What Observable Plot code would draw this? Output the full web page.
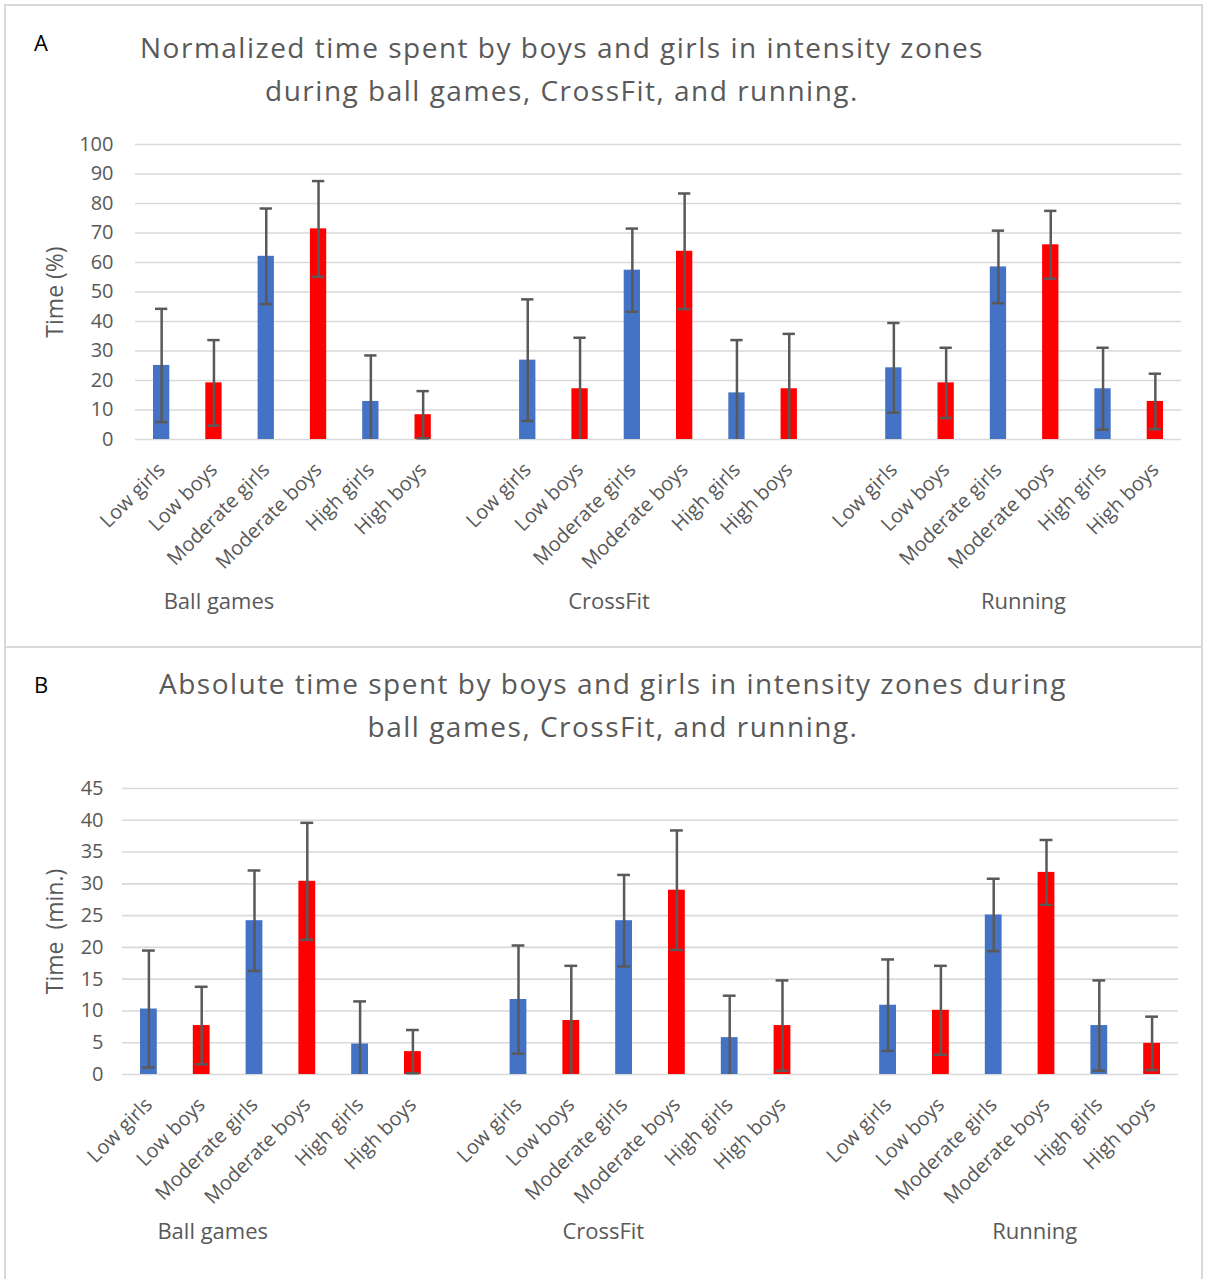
<!DOCTYPE html>
<html><head><meta charset="utf-8">
<script src="https://cdn.jsdelivr.net/npm/d3@7"></script>
<script src="https://cdn.jsdelivr.net/npm/@observablehq/plot@0.6"></script>
<style>
body{margin:0;background:#fff;font-family:"Open Sans",sans-serif;}
#page{position:relative;width:1205px;height:1279px;overflow:hidden;background:#fff;}
.panel{position:absolute;left:4px;width:1199px;border:2px solid #d9d9d9;box-sizing:border-box;}
.letter{position:absolute;font-size:22px;color:#000;}
.title{position:absolute;width:1100px;text-align:center;font-size:28px;letter-spacing:1.5px;color:#595959;line-height:43px;white-space:nowrap;}
.chart{position:absolute;left:0;width:1205px;}
.chart svg{max-width:none !important;}
</style></head>
<body><div id="page">
<div class="panel" style="top:4px;height:644px;"></div>
<div class="panel" style="top:646px;height:640px;"></div>
<div class="letter" style="left:34px;top:27px;">A</div>
<div class="title" style="left:12px;top:26px;">Normalized time spent by boys and girls in intensity zones<br>during ball games, CrossFit, and running.</div>
<div class="chart" id="chartA" style="top:130px;"></div>
<div class="letter" style="left:34px;top:669px;">B</div>
<div class="title" style="left:63px;top:662px;">Absolute time spent by boys and girls in intensity zones during<br>ball games, CrossFit, and running.</div>
<div class="chart" id="chartB" style="top:770px;"></div>
</div>
<script>
const groups = ["Ball games", "CrossFit", "Running"];
const zones = ["Low girls", "Low boys", "Moderate girls", "Moderate boys", "High girls", "High boys"];

// Panel A: normalized time (%) — mean and SD
const pctBallMean = [25.1, 19.2, 62.1, 71.4, 12.9, 8.4];
const pctBallSD   = [19.2, 14.5, 16.2, 16.2, 15.6, 8.0];
const pctCrossMean = [26.9, 17.2, 57.4, 63.8, 15.8, 17.2];
const pctCrossSD   = [20.6, 17.3, 14.1, 19.6, 17.9, 18.6];
const pctRunMean = [24.3, 19.2, 58.5, 66.0, 17.2, 12.9];
const pctRunSD   = [15.2, 11.9, 12.3, 11.5, 13.9, 9.4];

// Panel B: absolute time (min) — mean and SD
const minBallMean = [10.3, 7.7, 24.2, 30.4, 4.8, 3.6];
const minBallSD   = [9.2, 6.1, 7.9, 9.2, 6.7, 3.4];
const minCrossMean = [11.8, 8.5, 24.2, 29.0, 5.8, 7.7];
const minCrossSD   = [8.5, 8.6, 7.2, 9.4, 6.6, 7.1];
const minRunMean = [10.9, 10.1, 25.1, 31.8, 7.7, 4.9];
const minRunSD   = [7.2, 7.0, 5.7, 5.1, 7.1, 4.2];

const yTicksA = [0, 10, 20, 30, 40, 50, 60, 70, 80, 90, 100];
const yTicksB = [0, 5, 10, 15, 20, 25, 30, 35, 40, 45];

const girlsColor = "#4472C4";
const boysColor = "#FF0000";
const errColor = "#595959";
const textColor = "#595959";

// x domain: 6 zones per group with one empty slot between groups
const domain = [];
groups.forEach((g, i) => {
  if (i > 0) domain.push("gap" + i);
  zones.forEach(z => domain.push(g + "|" + z));
});

function rows(means, sds) {
  const out = [];
  groups.forEach((g, gi) => zones.forEach((z, zi) => {
    const m = means[gi][zi], s = sds[gi][zi];
    out.push({key: g + "|" + z, zone: z, mean: m, lo: Math.max(0, m - s), hi: m + s, clipped: m - s <= 0.05});
  }));
  return out;
}

function chart(data, opts) {
  const groupMarks = groups.map((g, i) => Plot.text([g], {
    x: () => g + "|" + opts.groupAnchor[i], frameAnchor: "bottom", dy: opts.groupDy, dx: opts.groupDx[i],
    fontSize: 22, fill: textColor, lineAnchor: "middle"
  }));
  return Plot.plot({
    width: 1205, height: 500,
    marginLeft: opts.ml, marginRight: opts.mr, marginTop: opts.mt, marginBottom: opts.mb,
    style: {fontFamily: "'Open Sans', sans-serif", color: textColor, background: "transparent", overflow: "visible", maxWidth: "none"},
    x: {domain, padding: 0, round: false, label: null},
    y: {domain: opts.yDomain, label: null},
    marks: [
      Plot.gridY(opts.yTicks, {stroke: "#d9d9d9", strokeOpacity: 1, strokeWidth: 1.6}),
      Plot.axisY(opts.yTicks, {tickSize: 0, tickPadding: opts.tp, fontSize: 20, fill: textColor, label: null}),
      Plot.axisX({tickSize: 0, tickRotate: -45, tickPadding: 27, fontSize: 20, fill: textColor, label: null,
        tickFormat: k => k.startsWith("gap") ? "" : k.split("|")[1]}),
      Plot.barY(data, {x: "key", y: "mean", fill: d => d.zone.endsWith("girls") ? girlsColor : boysColor, insetLeft: 18, insetRight: 18}),
      Plot.ruleX(data, {x: "key", y1: "lo", y2: "hi", stroke: errColor, strokeWidth: 2.5}),
      Plot.tickY(data, {x: "key", y: "hi", stroke: errColor, strokeWidth: 2.5, insetLeft: 20, insetRight: 20}),
      Plot.tickY(data.filter(d => !d.clipped), {x: "key", y: "lo", stroke: errColor, strokeWidth: 2.5, insetLeft: 20, insetRight: 20}),
      Plot.text([opts.ylabel], {frameAnchor: "left", textAnchor: "middle", rotate: -90, dx: opts.ylabelDx, fontSize: 23, fill: textColor}),
      ...groupMarks
    ]
  });
}

document.getElementById("chartA").appendChild(chart(
  rows([pctBallMean, pctCrossMean, pctRunMean], [pctBallSD, pctCrossSD, pctRunSD]),
  {ml: 135, mr: 24, mt: 14, mb: 191, yDomain: [0, 100], yTicks: yTicksA, tp: 22,
   ylabel: "Time (%)", ylabelDx: -80,
   groupAnchor: ["Low boys", "Low boys", "Moderate girls"], groupDx: [5, 29, 25], groupDy: 162}
));
document.getElementById("chartB").appendChild(chart(
  rows([minBallMean, minCrossMean, minRunMean], [minBallSD, minCrossSD, minRunSD]),
  {ml: 122, mr: 27, mt: 18, mb: 196, yDomain: [0, 45], yTicks: yTicksB, tp: 19,
   ylabel: "Time  (min.)", ylabelDx: -67,
   groupAnchor: ["Low boys", "Low boys", "Moderate girls"], groupDx: [11, 32, 41], groupDy: 157}
));
</script>
</body></html>
